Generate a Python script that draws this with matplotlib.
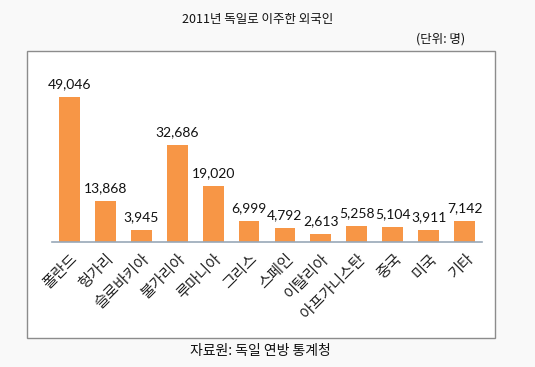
import matplotlib.pyplot as plt
from matplotlib.patches import Rectangle

plt.rcParams['font.family'] = ['Noto Sans CJK KR', 'DejaVu Sans']

# data
countries = ['폴란드', '헝가리', '슬로바키아', '불가리아', '루마니아', '그리스',
             '스페인', '이탈리아', '아프가니스탄', '중국', '미국', '기타']
immigrants = [49046, 13868, 3945, 32686, 19020, 6999,
              4792, 2613, 5258, 5104, 3911, 7142]

W, H = 535, 367
fig = plt.figure(figsize=(W / 100, H / 100), dpi=100)
fig.patch.set_facecolor('#f9f9f9')

# white chart frame
fig.patches.append(Rectangle((27 / W, 1 - 338 / H), (495 - 27) / W, (338 - 51) / H,
                             transform=fig.transFigure, facecolor='white',
                             edgecolor='#8c8c8c', lw=1.0, zorder=-1))

# plot area: baseline at y=242px, 49,046 bar top at y=97px
ax = fig.add_axes([51.5 / W, 1 - 242 / H, (482.5 - 51.5) / W, (242 - 60) / H])
ax.set_zorder(1)
ax.set_facecolor('none')
x = range(len(countries))
bars = ax.bar(x, immigrants, width=0.58, color='#f79646', zorder=2)
ax.set_xlim(-0.5, len(countries) - 0.5)
ax.set_ylim(0, 49046 * 182 / 145)

for b, v in zip(bars, immigrants):
    ax.annotate(f'{v:,}', (b.get_x() + b.get_width() / 2, v),
                xytext=(0, 5), textcoords='offset points',
                ha='center', va='bottom', fontsize=10,
                family=['Lato', 'DejaVu Sans'], color='#111111')

for s in ['top', 'right', 'left']:
    ax.spines[s].set_visible(False)
ax.spines['bottom'].set_color('#98a8b8')
ax.spines['bottom'].set_linewidth(1.2)
ax.set_yticks([])
ax.set_xticks(list(x))
ax.set_xticklabels(countries, rotation=45, ha='right', va='top',
                   rotation_mode='anchor', fontsize=11, color='#222222')
ax.tick_params(axis='x', length=0, pad=6)

fig.text(258 / W, 1 - 19 / H, '2011년 독일로 이주한 외국인', ha='center', va='center',
         fontsize=9, color='#111111')
fig.text(465 / W, 1 - 39 / H, '(단위: 명)', ha='right', va='center',
         fontsize=9, color='#111111')
fig.text(260 / W, 1 - 351 / H, '자료원: 독일 연방 통계청', ha='center', va='center',
         fontsize=10, color='#111111')

fig.savefig('out.png', dpi=100, facecolor=fig.get_facecolor())
